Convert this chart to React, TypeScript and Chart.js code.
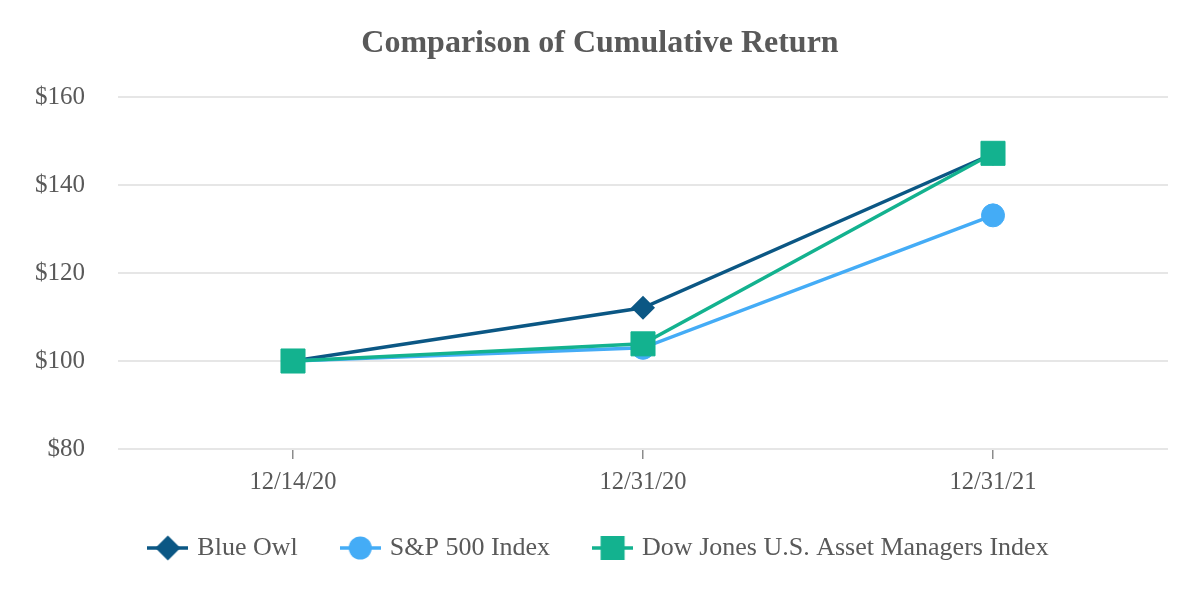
import React, { useEffect, useRef } from "react";
import { Chart, registerables } from "chart.js";

Chart.register(...registerables);

const categories = ["12/14/20", "12/31/20", "12/31/21"];
const blueOwl = [100, 112.1, 147.1];
const sp500 = [100, 103.0, 133.1];
const dowJones = [100, 103.9, 147.2];
const yTicks = [80, 100, 120, 140, 160];
const seriesNames = ["Blue Owl", "S&P 500 Index", "Dow Jones U.S. Asset Managers Index"];

const COLORS = ["#0b5784", "#44acf6", "#13b28f"];
const STYLES = ["rectRot", "circle", "rect"] as const;
const RADII = [12, 11.5, 17];
const BORDERS = [0, 1, 1];
const FONT = "'Liberation Serif', 'Times New Roman', serif";
const TEXT = "#595959";

function legendImage(color: string, style: string): HTMLCanvasElement {
  const c = document.createElement("canvas");
  c.width = 41;
  c.height = 28;
  const ctx = c.getContext("2d")!;
  const cx = 20.5;
  const cy = 14;
  ctx.strokeStyle = color;
  ctx.lineWidth = 3.5;
  ctx.beginPath();
  ctx.moveTo(0, cy);
  ctx.lineTo(41, cy);
  ctx.stroke();
  ctx.fillStyle = color;
  ctx.beginPath();
  if (style === "rectRot") {
    const r = 12.5;
    ctx.moveTo(cx, cy - r);
    ctx.lineTo(cx + r, cy);
    ctx.lineTo(cx, cy + r);
    ctx.lineTo(cx - r, cy);
    ctx.closePath();
  } else if (style === "circle") {
    ctx.arc(cx, cy, 11.5, 0, Math.PI * 2);
  } else {
    ctx.rect(cx - 12, cy - 12, 24, 24);
  }
  ctx.fill();
  return c;
}

export default function App() {
  const ref = useRef<HTMLCanvasElement | null>(null);

  useEffect(() => {
    document.body.style.margin = "0";
    if (!ref.current) return;
    const values = [blueOwl, sp500, dowJones];
    const images = COLORS.map((c, i) => legendImage(c, STYLES[i]));
    const chart = new Chart(ref.current, {
      type: "line",
      data: {
        labels: categories,
        datasets: values.map((v, i) => ({
          label: seriesNames[i],
          data: v,
          borderColor: COLORS[i],
          backgroundColor: COLORS[i],
          pointBackgroundColor: COLORS[i],
          pointBorderColor: COLORS[i],
          pointBorderWidth: BORDERS[i],
          borderWidth: 3.5,
          tension: 0,
          pointStyle: STYLES[i],
          pointRadius: RADII[i],
          pointHoverRadius: RADII[i],
          order: 3 - i,
          yAxisID: "y",
        })),
      },
      options: {
        animation: false,
        responsive: true,
        maintainAspectRatio: false,
        layout: { padding: { left: 0, right: 0, top: 0, bottom: 29 } },
        plugins: {
          tooltip: { enabled: false },
          title: {
            display: true,
            text: "Comparison of Cumulative Return",
            color: TEXT,
            font: { family: FONT, size: 32, weight: "bold" },
            padding: { top: 24.8, bottom: 33.8 },
          },
          legend: {
            display: true,
            position: "bottom",
            labels: {
              usePointStyle: true,
              pointStyleWidth: 33,
              padding: 46,
              color: TEXT,
              font: { family: FONT, size: 26 },
              generateLabels: () =>
                seriesNames.map((name, i) => ({
                  text: name,
                  pointStyle: images[i] as any,
                  fillStyle: COLORS[i],
                  strokeStyle: COLORS[i],
                  lineWidth: 0,
                  hidden: false,
                  datasetIndex: i,
                  fontColor: TEXT,
                })),
            },
          },
        },
        scales: {
          x: {
            offset: true,
            grid: {
              display: true,
              drawOnChartArea: false,
              drawTicks: true,
              tickLength: 10,
              color: "#8c8c8c",
              lineWidth: 1.5,
            },
            border: { display: false },
            ticks: {
              color: TEXT,
              font: { family: FONT, size: 24.5 },
              padding: 9,
            },
            afterFit: (s: any) => {
              s.height = 40;
            },
          },
          y: {
            position: "left",
            min: 80,
            max: 160,
            afterBuildTicks: (s: any) => {
              s.ticks = yTicks.map((v) => ({ value: v }));
            },
            grid: { color: "#e6e6e6", lineWidth: 2, drawTicks: false },
            border: { display: false },
            ticks: {
              color: TEXT,
              font: { family: FONT, size: 25 },
              padding: 33,
              callback: (v: any) => "$" + v,
            },
            afterFit: (s: any) => {
              s.width = 118;
            },
          },
          yRight: {
            position: "right",
            display: true,
            grid: { display: false },
            border: { display: false },
            ticks: { display: false },
            afterFit: (s: any) => {
              s.width = 32;
            },
          },
        },
      },
    });
    return () => chart.destroy();
  }, []);

  return (
    <div style={{ width: 1200, height: 600, position: "relative" }}>
      <canvas ref={ref} />
    </div>
  );
}
